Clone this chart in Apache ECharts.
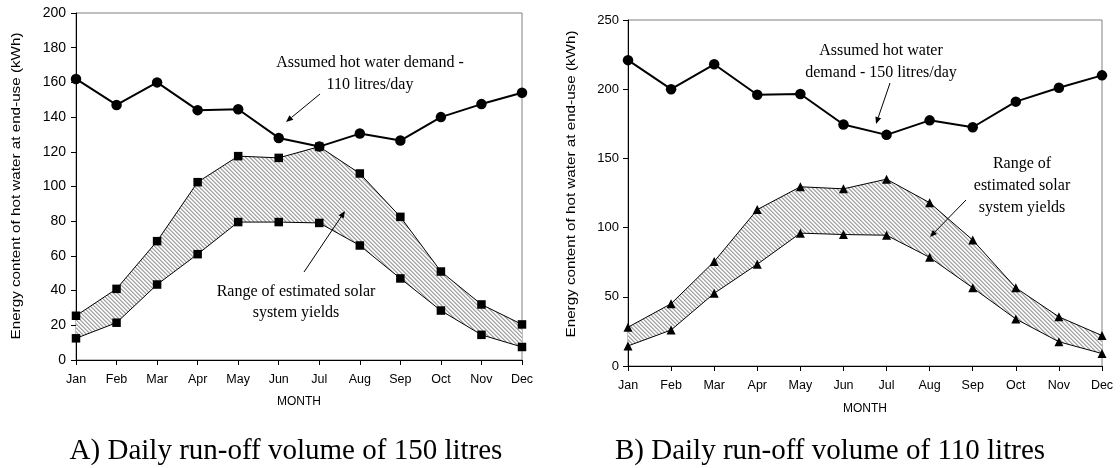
<!DOCTYPE html>
<html>
<head>
<meta charset="utf-8">
<script src="https://cdn.jsdelivr.net/npm/echarts@6/dist/echarts.min.js"></script>
<style>
html,body{margin:0;padding:0;background:#fff;}
#chart{width:1120px;height:468px;}
</style>
</head>
<body>
<div id="chart"></div>
<script>
var months = ['Jan','Feb','Mar','Apr','May','Jun','Jul','Aug','Sep','Oct','Nov','Dec'];
var demandA = [162, 147, 160, 144, 144.5, 128, 123, 130.5, 126.5, 140, 147.5, 154];
var solarAUpper = [25.5, 41, 68.5, 102.5, 117.5, 116.5, 123, 107.5, 82.5, 51, 32, 20.5];
var solarALower = [12.5, 21.5, 43.5, 61, 79.5, 79.5, 79, 66, 47, 28.5, 14.5, 7.5];
var demandB = [221, 200, 218, 196, 196.5, 174.5, 167, 177.5, 172.5, 191, 201, 210];
var solarBUpper = [28, 45, 75.5, 113, 129.5, 128, 135, 118, 91, 56.5, 35.5, 22];
var solarBLower = [14.5, 26, 52.5, 73.5, 96, 95, 94.5, 78.5, 56.5, 34, 17.5, 9];
var yTicksA = {min: 0, max: 200, interval: 20};
var yTicksB = {min: 0, max: 250, interval: 50};
var yTitle = 'Energy content of hot water at end-use (kWh)';
var xTitle = 'MONTH';
var captionA = 'A) Daily run-off volume of 150 litres';
var captionB = 'B) Daily run-off volume of 110 litres';

// hatch pattern
var pc = document.createElement('canvas');
pc.width = 4; pc.height = 4;
var pg = pc.getContext('2d');
pg.fillStyle = '#ffffff'; pg.fillRect(0,0,4,4);
for (var yy=0; yy<4; yy++) for (var xx=0; xx<4; xx++) {
  var d = ((xx - yy) % 4 + 4) % 4;
  if (d === 0) { pg.fillStyle = '#a4a4a4'; pg.fillRect(xx,yy,1,1); }
  else if (d === 1) { pg.fillStyle = '#c6c6c6'; pg.fillRect(xx,yy,1,1); }
  else if (d === 3) { pg.fillStyle = '#eeeeee'; pg.fillRect(xx,yy,1,1); }
}
var hatch = {image: pc, repeat: 'repeat'};

function diff(u, l){ return u.map(function(v,i){ return +(v - l[i]).toFixed(2); }); }

var chart = echarts.init(document.getElementById('chart'), null, {renderer:'canvas'});

var axisFont = 'Liberation Sans';
function xAxisCfg(gi, gap){
  return {
    type:'category', gridIndex: gi, data: months, boundaryGap:false,
    axisLine:{lineStyle:{color:'#000', width:1}},
    axisTick:{show:true, alignWithLabel:true, length:5, lineStyle:{color:'#000'}},
    axisLabel:{color:'#000', fontSize:12.5, fontFamily:axisFont, margin:13, interval:0},
    name: xTitle, nameLocation:'middle', nameGap: gap,
    nameTextStyle:{color:'#000', fontSize:12, fontFamily:axisFont},
    splitLine:{show:false}
  };
}
function yAxisCfg(gi, t, fs, mg){
  return {
    type:'value', gridIndex: gi, min:t.min, max:t.max, interval:t.interval,
    axisLine:{show:true, lineStyle:{color:'#000', width:1}},
    axisTick:{show:true, length:5, lineStyle:{color:'#000'}},
    axisLabel:{color:'#000', fontSize:fs, fontFamily:axisFont, margin:mg},
    splitLine:{show:false}
  };
}
function seriesSet(gi, demand, up, low, sym, symSize){
  var st = 'band' + gi;
  return [
    {type:'line', xAxisIndex:gi, yAxisIndex:gi, stack:st, data: low, symbol:'none', lineStyle:{opacity:0}, silent:true, z:1},
    {type:'line', xAxisIndex:gi, yAxisIndex:gi, stack:st, data: diff(up, low), symbol:'none', lineStyle:{opacity:0}, areaStyle:{color: hatch, opacity:1}, silent:true, z:1},
    {type:'line', xAxisIndex:gi, yAxisIndex:gi, data: up, symbol: sym, symbolSize: symSize, itemStyle:{color:'#000'}, lineStyle:{color:'#000', width:1}, z:3},
    {type:'line', xAxisIndex:gi, yAxisIndex:gi, data: low, symbol: sym, symbolSize: symSize, itemStyle:{color:'#000'}, lineStyle:{color:'#000', width:1}, z:3},
    {type:'line', xAxisIndex:gi, yAxisIndex:gi, data: demand, symbol:'circle', symbolSize:10.5, itemStyle:{color:'#000'}, lineStyle:{color:'#000', width:2}, z:4}
  ];
}

function arrow(x1,y1,x2,y2){
  var ang = Math.atan2(y2-y1, x2-x1);
  var L = 7, W = 3;
  var bx = x2 - L*Math.cos(ang), by = y2 - L*Math.sin(ang);
  var px = -Math.sin(ang)*W, py = Math.cos(ang)*W;
  return [
    {type:'line', shape:{x1:x1,y1:y1,x2:bx,y2:by}, style:{stroke:'#000', lineWidth:1}, z:10},
    {type:'polygon', shape:{points:[[x2,y2],[bx+px,by+py],[bx-px,by-py]]}, style:{fill:'#000'}, z:10}
  ];
}
function label(text, x, y, size, lh){
  return {type:'text', x:x, y:y, z:10, style:{text:text, fill:'#000', fontSize:size, fontFamily:'Liberation Serif', textAlign:'center', textVerticalAlign:'middle', lineHeight:lh}};
}
function yTitleText(x, y){
  return {type:'text', x:x, y:y, rotation:Math.PI/2, scaleX:1.17, scaleY:1, z:10,
    style:{text:yTitle, fill:'#000', fontSize:13, fontFamily:axisFont, textAlign:'center', textVerticalAlign:'middle'}};
}

var graphics = [].concat(
  [yTitleText(16, 186), yTitleText(571, 184)],
  [label('Assumed hot water demand -\n110 litres/day', 370, 74, 16, 22)],
  arrow(320, 94, 286, 122),
  [label('Range of estimated solar\nsystem yields', 296, 302, 16, 21)],
  arrow(304, 272, 345, 211),
  [label('Assumed hot water\ndemand - 150 litres/day', 881, 62, 16, 22)],
  arrow(890, 83, 876, 124),
  [label('Range of\nestimated solar\nsystem yields', 1022, 186, 16, 22)],
  arrow(966, 200, 930, 237),
  [label(captionA, 286, 451, 29, 30), label(captionB, 830, 451, 29, 30)]
);

var option = {
  animation:false,
  backgroundColor:'#fff',
  grid:[
    {left:76, top:13, width:446, height:347, show:true, borderColor:'#808080', borderWidth:1, backgroundColor:'transparent'},
    {left:628, top:20, width:474, height:346, show:true, borderColor:'#808080', borderWidth:1, backgroundColor:'transparent'}
  ],
  xAxis:[xAxisCfg(0, 36), xAxisCfg(1, 37)],
  yAxis:[yAxisCfg(0, yTicksA, 14, 10), yAxisCfg(1, yTicksB, 13, 9)],
  series: [].concat(
    seriesSet(0, demandA, solarAUpper, solarALower, 'rect', 8.5),
    seriesSet(1, demandB, solarBUpper, solarBLower, 'triangle', 9)
  ),
  graphic: graphics
};
chart.setOption(option);
</script>
</body>
</html>
